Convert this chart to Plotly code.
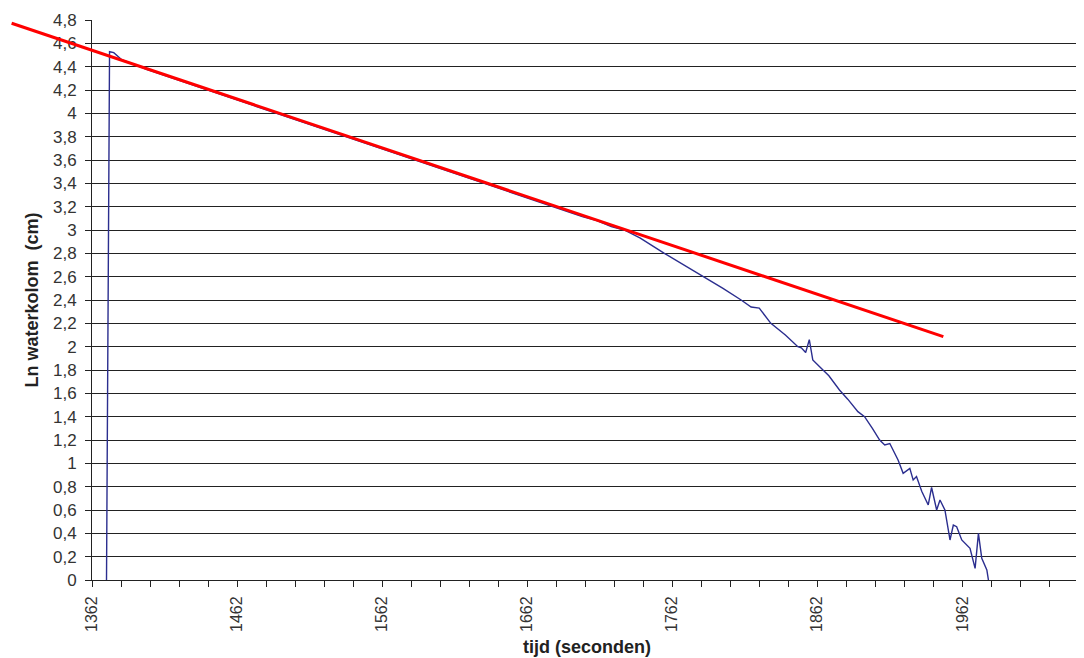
import plotly.graph_objects as go

# Measured series: time (s) vs ln(water column height in cm)
tijd = [1372.0, 1374.1, 1377.0, 1382.5, 1400, 1420, 1440, 1460, 1480, 1500, 1520, 1540,
        1560, 1580, 1600, 1620, 1640, 1660, 1680, 1700, 1710, 1720, 1728.9, 1740,
        1756.6, 1770, 1784.2, 1797, 1809.5, 1816.4, 1822, 1830, 1840, 1848.6, 1851,
        1854, 1856.5, 1858.9, 1864.7, 1870, 1877.3, 1883, 1890, 1894.6, 1900, 1905,
        1908.5, 1912, 1917.7, 1921.2, 1925.8, 1928.1, 1930.4, 1934, 1938.5, 1940.8,
        1944.3, 1946.6, 1950, 1953.5, 1955.8, 1958.1, 1961.6, 1967.3, 1970.8, 1973.1,
        1975.4, 1978.9, 1980]
ln_waterkolom = [0.0, 4.528, 4.52, 4.46, 4.375, 4.29, 4.208, 4.122, 4.04, 3.955, 3.872, 3.788,
                 3.703, 3.62, 3.537, 3.452, 3.37, 3.285, 3.2, 3.115, 3.08, 3.03, 3.0, 2.93,
                 2.80, 2.70, 2.6, 2.50, 2.40, 2.34, 2.33, 2.2, 2.10, 2.0, 1.99,
                 1.95, 2.06, 1.886, 1.814, 1.75, 1.629, 1.55, 1.443, 1.4, 1.3, 1.2,
                 1.157, 1.17, 1.029, 0.914, 0.957, 0.857, 0.886, 0.76, 0.643, 0.793,
                 0.6, 0.686, 0.6, 0.343, 0.471, 0.457, 0.343, 0.271, 0.1, 0.4,
                 0.186, 0.086, 0.0]

# Trend line (drawn by hand in the original), endpoints
trend_tijd = [1306.6, 1948.9]
trend_ln = [4.772, 2.086]

# Axis settings
x_start, x_end = 1362, 2044.5
x_tick_vals = list(range(1362, 2043, 20))
x_tick_text = [str(v) if (v - 1362) % 100 == 0 else "" for v in x_tick_vals]
y_tick_vals = [round(i * 0.2, 1) for i in range(25)]
y_tick_text = [("%g" % v).replace(".", ",") for v in y_tick_vals]

# Page has an 8px body margin; figure sized to compensate
W, H = 1076, 650
ml, mr, mt, mb = 2, 2, 12, 78
plot_w = W - ml - mr
axis_left_px = 82
px_per_s = (plot_w - axis_left_px) / (x_end - x_start)
x2_start = x_start - axis_left_px / px_per_s

font_family = "Liberation Sans, Arial, sans-serif"

fig = go.Figure()
fig.add_trace(go.Scatter(x=tijd, y=ln_waterkolom, mode="lines",
                         line=dict(color="#2B2E8F", width=1.4),
                         xaxis="x", yaxis="y", showlegend=False, hoverinfo="x+y"))
fig.add_trace(go.Scatter(x=trend_tijd, y=trend_ln, mode="lines",
                         line=dict(color="#FF0000", width=3),
                         xaxis="x2", yaxis="y2", showlegend=False, hoverinfo="skip"))

fig.update_layout(
    width=W, height=H,
    margin=dict(l=ml, r=mr, t=mt, b=mb, autoexpand=False),
    paper_bgcolor="white", plot_bgcolor="rgba(0,0,0,0)",
    font=dict(family=font_family, color="#333333", size=16),
    xaxis=dict(domain=[axis_left_px / plot_w, 1], range=[x_start, x_end],
               tickvals=x_tick_vals, ticktext=x_tick_text, tickangle=-90,
               ticks="outside", ticklen=6, tickcolor="#222", tickwidth=1,
               showline=True, linecolor="#222", linewidth=1,
               showgrid=False, zeroline=False, automargin=False,
               ticklabelstandoff=3,
               tickfont=dict(size=16, color="#333333"),
               title=dict(text="<b>tijd (seconden)</b>", standoff=9,
                          font=dict(size=18, color="#222222")),
               anchor="y"),
    yaxis=dict(domain=[0, 1], range=[0, 4.8],
               tickvals=y_tick_vals, ticktext=y_tick_text,
               ticks="outside", ticklen=6, tickcolor="#222", tickwidth=1,
               showline=True, linecolor="#222", linewidth=1,
               showgrid=True, gridcolor="#222222", gridwidth=1.3, zeroline=False,
               automargin=False, ticklabelstandoff=5,
               tickfont=dict(size=17, color="#333333"),
               title=dict(text="<b>Ln waterkolom  (cm)</b>", standoff=9,
                          font=dict(size=18, color="#222222")),
               anchor="x"),
    xaxis2=dict(domain=[0, 1], range=[x2_start, x_end], visible=False,
                showgrid=False, zeroline=False, anchor="y2"),
    yaxis2=dict(domain=[0, 1], range=[0, 4.8], visible=False,
                showgrid=False, zeroline=False, anchor="x2"),
)

fig.write_html("out.html")
